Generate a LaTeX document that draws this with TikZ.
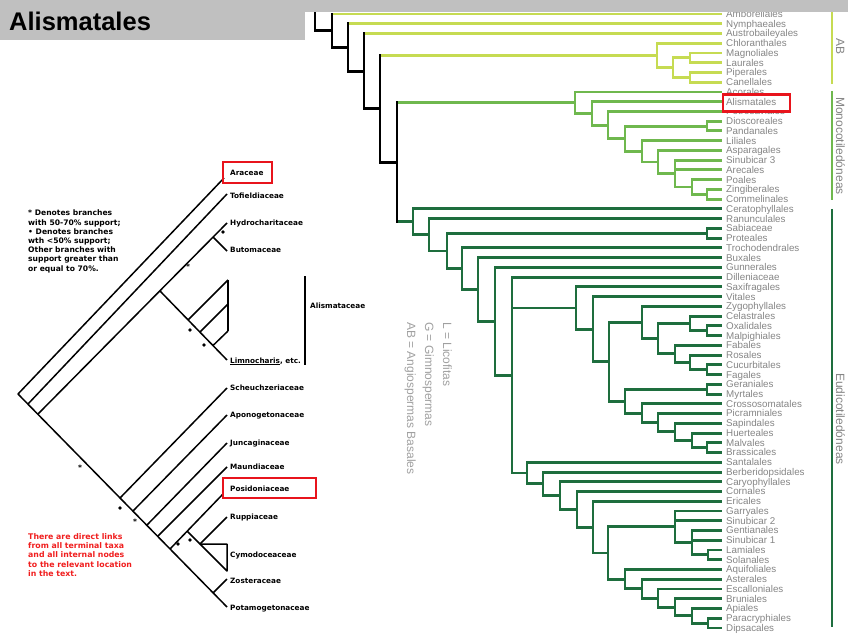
\documentclass[tikz,border=0pt]{standalone}
\usepackage{fontspec}
\setmainfont{Liberation Sans}
\newfontfamily\dejavu{DejaVu Sans}
\definecolor{abcol}{HTML}{C6DB52}
\definecolor{mocol}{HTML}{6FB84E}
\definecolor{eucol}{HTML}{1E6E3E}
\definecolor{lblgray}{HTML}{858585}
\definecolor{keygray}{HTML}{A0A0A0}
\definecolor{bargray}{HTML}{C0C0C0}
\definecolor{boxred}{HTML}{E8141C}
\definecolor{notered}{HTML}{F01E1E}
\begin{document}
\begin{tikzpicture}[x=1pt,y=-1pt,
  declare function={ry(\r)=14+(\r-1)*9.746;},
  tree/.style={line width=2.9pt},
  abl/.style={tree,draw=abcol},
  mol/.style={tree,draw=mocol},
  eul/.style={tree,draw=eucol},
  bkl/.style={tree,draw=black,line cap=rect},
  leaf/.style={anchor=base west,inner sep=0pt,text=lblgray,font=\fontsize{9.8}{10}\selectfont},
  lt/.style={line width=1.5pt,draw=black,line join=round},
  taxon/.style={anchor=base west,inner sep=0pt,font=\dejavu\bfseries\fontsize{7.3}{9}\selectfont},
  dotmark/.style={circle,fill=black,inner sep=0pt,minimum size=3.8pt},
  starmark/.style={inner sep=0pt,font=\dejavu\bfseries\fontsize{7.5}{7.5}\selectfont},
  redbox/.style={draw=boxred,line width=2.8pt},
  cladelbl/.style={rotate=-90,anchor=base,inner sep=0pt,text=lblgray,font=\fontsize{12}{12}\selectfont},
  keylbl/.style={rotate=-90,anchor=base west,inner sep=0pt,text=keygray,font=\fontsize{12}{12}\selectfont},
]
\useasboundingbox (0,0) rectangle (848,636);

% ---------------- right tree: leaves ----------------
\foreach \n [count=\i] in {Amborellales,Nymphaeales,Austrobaileyales,Chloranthales,Magnoliales,Laurales,Piperales,Canellales,Acorales,Alismatales,Petrosaviales,Dioscoreales,Pandanales,Liliales,Asparagales,Sinubicar 3,Arecales,Poales,Zingiberales,Commelinales,Ceratophyllales,Ranunculales,Sabiaceae,Proteales,Trochodendrales,Buxales,Gunnerales,Dilleniaceae,Saxifragales,Vitales,Zygophyllales,Celastrales,Oxalidales,Malpighiales,Fabales,Rosales,Cucurbitales,Fagales,Geraniales,Myrtales,Crossosomatales,Picramniales,Sapindales,Huerteales,Malvales,Brassicales,Santalales,Berberidopsidales,Caryophyllales,Cornales,Ericales,Garryales,Sinubicar 2,Gentianales,Sinubicar 1,Lamiales,Solanales,Aquifoliales,Asterales,Escalloniales,Bruniales,Apiales,Paracryphiales,Dipsacales}
{
  \coordinate (l\i) at (722,{ry(\i)});
  \ifnum\i=10 \else \node[leaf] (t\i) at (726,{ry(\i)+3.4}) {\n}; \fi
}

% ---------------- right tree: internal nodes ----------------
\foreach \nm/\x/\r in {N315/315/2.72,N332/332/2.72,N348/348/4.43,N364/364/6.87,N380/380/10.73,N397/397/16.21,
ML/690/5.5,PC/690/7.5,Mag/673/6.5,ChlM/657/5.25,
Mono/575/10.10,AliN/592/11.20,PetN/608/12.40,DPLAC/625/13.80,DP/707/12.5,LAC/642/15.09,AC/658/16.19,Comm/675/17.375,PZC/692/18.75,ZC/707/19.5,
N413/413/22.33,RanN/429/23.66,SPT/447/25.32,SP/707/23.5,TrochN/462/27.13,BuxN/478/29.26,GunnN/495/32.53,Penta/512/38.05,
SR/576/31.17,VitN/593/33.35,RosCore/609/36.69,Fabids/642/32.66,COMN/658/34.31,COM/690/32.75,OM/707/33.5,Nfix/675/35.875,RCF/690/36.75,CF/707/37.5,
Malvids/625/40.73,GM/707/39.5,CPS/642/41.97,PS/658/42.94,SHMB/675/43.875,HMB/692/44.75,MB/707/45.5,
SantN/527/48.10,BerbN/543/49.21,CaryN/560/50.41,CornN/577/51.83,EricN/593/53.65,CoreAst/608/56.30,
Lamiids/675/53.625,GentN/692/55.25,LS/708/56.5,Campan/625/58.98,AsN/642/59.97,EN/658/60.94,BN/675/61.875,APD/692/62.75,PD/708/63.5}
  \coordinate (\nm) at (\x,{ry(\r)});

% coloured branches
\foreach \p/\c in {ML/l5,ML/l6,PC/l7,PC/l8,Mag/ML,Mag/PC,ChlM/l4,ChlM/Mag}
  \draw[abl] (\p) |- (\c);
\draw[abl] (N332 |- l1) -- (l1);
\draw[abl] (N348 |- l2) -- (l2);
\draw[abl] (N364 |- l3) -- (l3);
\draw[abl] (N380 |- ChlM) -- (ChlM);

\foreach \p/\c in {Mono/l9,Mono/AliN,AliN/l10,AliN/PetN,PetN/l11,PetN/DPLAC,DPLAC/DP,DPLAC/LAC,DP/l12,DP/l13,LAC/l14,LAC/AC,AC/l15,AC/Comm,Comm/l16,Comm/l17,Comm/PZC,PZC/l18,PZC/ZC,ZC/l19,ZC/l20}
  \draw[mol] (\p) |- (\c);
\draw[mol] (N397 |- Mono) -- (Mono);

\foreach \p/\c in {N413/l21,N413/RanN,RanN/l22,RanN/SPT,SPT/SP,SPT/TrochN,SP/l23,SP/l24,TrochN/l25,TrochN/BuxN,BuxN/l26,BuxN/GunnN,GunnN/l27,GunnN/Penta,Penta/l28,Penta/SR,Penta/SantN,SR/l29,SR/VitN,VitN/l30,VitN/RosCore,RosCore/Fabids,RosCore/Malvids,Fabids/l31,Fabids/COMN,COMN/COM,COMN/Nfix,COM/l32,COM/OM,OM/l33,OM/l34,Nfix/l35,Nfix/RCF,RCF/l36,RCF/CF,CF/l37,CF/l38,Malvids/GM,Malvids/CPS,GM/l39,GM/l40,CPS/l41,CPS/PS,PS/l42,PS/SHMB,SHMB/l43,SHMB/HMB,HMB/l44,HMB/MB,MB/l45,MB/l46,SantN/l47,SantN/BerbN,BerbN/l48,BerbN/CaryN,CaryN/l49,CaryN/CornN,CornN/l50,CornN/EricN,EricN/l51,EricN/CoreAst,CoreAst/Lamiids,CoreAst/Campan,Lamiids/l52,Lamiids/l53,Lamiids/GentN,GentN/l54,GentN/l55,GentN/LS,LS/l56,LS/l57,Campan/l58,Campan/AsN,AsN/l59,AsN/EN,EN/l60,EN/BN,BN/l61,BN/APD,APD/l62,APD/PD,PD/l63,PD/l64}
  \draw[eul] (\p) |- (\c);
\draw[eul] (N397 |- N413) -- (N413);

% black backbone
\draw[bkl] (315,4) -- (N315) -- (N332);
\draw[bkl] (N332 |- l1) -- (N332 |- N348) -- (N348);
\draw[bkl] (N348 |- l2) -- (N348 |- N364) -- (N364);
\draw[bkl] (N364 |- l3) -- (N364 |- N380) -- (N380);
\draw[bkl] (N380 |- ChlM) -- (N380 |- N397) -- (N397);
\draw[bkl] (N397 |- Mono) -- (N397 |- N413);

% red box round Alismatales
\draw[redbox,fill=white] (723,94.5) rectangle (790,111.2);
\node[leaf] (t10) at (726,{ry(10)+3.4}) {Alismatales};

% clade bars
\coordinate (abT) at (832,10);  \coordinate (abB) at (832,84);
\coordinate (moT) at (832,91);  \coordinate (moB) at (832,200);
\coordinate (euT) at (832,209); \coordinate (euB) at (832,627);
\draw[abl] (abT) -- (abB);
\draw[mol] (moT) -- (moB);
\draw[eul] (euT) -- (euB);
\node[cladelbl] (cAB) at (836,47) {AB};
\node[cladelbl] (cMO) at (836,146) {Monocotiledóneas};
\node[cladelbl] (cEU) at (836,419) {Eudicotiledóneas};

% key of the right tree
\node[keylbl] (kL) at (443,322) {L = Licofitas};
\node[keylbl] (kG) at (425,322) {G = Gimnospermas};
\node[keylbl] (kAB) at (407,322) {AB = Angiospermas Basales};

% ---------------- left tree ----------------
\coordinate (R) at (18,394);
\coordinate (B1) at (28,404);
\coordinate (B2) at (38,414);
\coordinate (TA) at (224,178);
\coordinate (TT) at (227,194);
\coordinate (HT) at (227,223);
\coordinate (NA) at (160,291);
\coordinate (NHB) at (213,237);
\coordinate (BT) at (227,251);
\coordinate (LT) at (227,360);
\coordinate (a1) at (188,320);
\coordinate (a2) at (200,332);
\coordinate (a3) at (213,345.5);
\coordinate (v1) at (228,280);
\coordinate (v2) at (228,304);
\coordinate (v3) at (228,331);
\coordinate (PT) at (227,607);
\coordinate (S1) at (120,498);
\coordinate (S2) at (133,511);
\coordinate (S3) at (147,525);
\coordinate (S4) at (158,536);
\coordinate (S5) at (170,549);
\coordinate (S6) at (213,593);
\coordinate (ScT) at (227,388);
\coordinate (ApT) at (227,415);
\coordinate (JuT) at (227,443);
\coordinate (MaT) at (227,467);
\coordinate (NP) at (187,531);
\coordinate (PoT) at (223,494);
\coordinate (NRC) at (200,544);
\coordinate (RuT) at (227,517);
\coordinate (C1) at (227,544);
\coordinate (C2) at (227,571);
\coordinate (ZoT) at (227,579);

\draw[lt] (R) -- (TA);
\draw[lt] (R) -- (PT);
\draw[lt] (B1) -- (TT);
\draw[lt] (B2) -- (HT);
\draw[lt] (NHB) -- (BT);
\draw[lt] (NA) -- (LT);
\draw[lt] (a1) -- (v1);
\draw[lt] (a2) -- (v2);
\draw[lt] (a3) -- (v3);
\draw[lt] (v1) -- (v3);
\draw[lt] (S1) -- (ScT);
\draw[lt] (S2) -- (ApT);
\draw[lt] (S3) -- (JuT);
\draw[lt] (S4) -- (MaT);
\draw[lt] (S5) -- (PoT);
\draw[lt] (NP) -- (NRC);
\draw[lt] (NRC) -- (RuT);
\draw[lt] (NRC) -- (C1) -- (C2) -- cycle;
\draw[lt] (S6) -- (ZoT);

% support marks
\node[dotmark] (d1) at (223,232) {};
\node[dotmark] (d2) at (190,330) {};
\node[dotmark] (d3) at (204,345) {};
\node[dotmark] (d4) at (120,508) {};
\node[dotmark] (d5) at (178,544) {};
\node[dotmark] (d6) at (190,540) {};
\node[starmark] (s1) at (188,267) {*};
\node[starmark] (s2) at (80,468) {*};
\node[starmark] (s3) at (135,522) {*};

% taxon labels
\node[taxon] (Ara) at (230,176) {Araceae};
\node[taxon] (Tof) at (230,199) {Tofieldiaceae};
\node[taxon] (Hyd) at (230,226) {Hydrocharitaceae};
\node[taxon] (But) at (230,253) {Butomaceae};
\node[taxon] (Lim) at (230,363) {\underline{Limnocharis}, etc.};
\node[taxon] (Alis) at (310,308) {Alismataceae};
\node[taxon] (Sch) at (230,390) {Scheuchzeriaceae};
\node[taxon] (Apo) at (230,417) {Aponogetonaceae};
\node[taxon] (Jun) at (230,445) {Juncaginaceae};
\node[taxon] (Mau) at (230,469) {Maundiaceae};
\node[taxon] (Pos) at (230,491) {Posidoniaceae};
\node[taxon] (Rup) at (230,519) {Ruppiaceae};
\node[taxon] (Cym) at (230,557) {Cymodoceaceae};
\node[taxon] (Zos) at (230,583) {Zosteraceae};
\node[taxon] (Pot) at (230,610) {Potamogetonaceae};

\coordinate (barT) at (305,276);
\coordinate (barB) at (305,365);
\draw[line width=1.5pt] (barT) -- (barB);

\draw[redbox] (223,162) rectangle (272,183);
\draw[redbox] (223,478) rectangle (316,498);

% legend and note
\node[anchor=north west,inner sep=0pt,align=left,font=\dejavu\bfseries\fontsize{7.6}{9.2}\selectfont] (key) at (28,210)
  {* Denotes branches\\with 50-70\% support;\\• Denotes branches\\wth <50\% support;\\Other branches with\\support greater than\\or equal to 70\%.};
\node[anchor=north west,inner sep=0pt,align=left,text=notered,font=\dejavu\bfseries\fontsize{7.8}{9.3}\selectfont] (note) at (28,533)
  {There are direct links\\from all terminal taxa\\and all internal nodes\\to the relevant location\\in the text.};

% ---------------- title bar ----------------
\fill[bargray] (0,0) rectangle (848,12);
\fill[bargray] (0,0) rectangle (305,40);
\node[anchor=base west,inner sep=0pt,font=\bfseries\fontsize{25.5}{26}\selectfont] (title) at (9,31) {Alismatales};
\end{tikzpicture}
\end{document}
